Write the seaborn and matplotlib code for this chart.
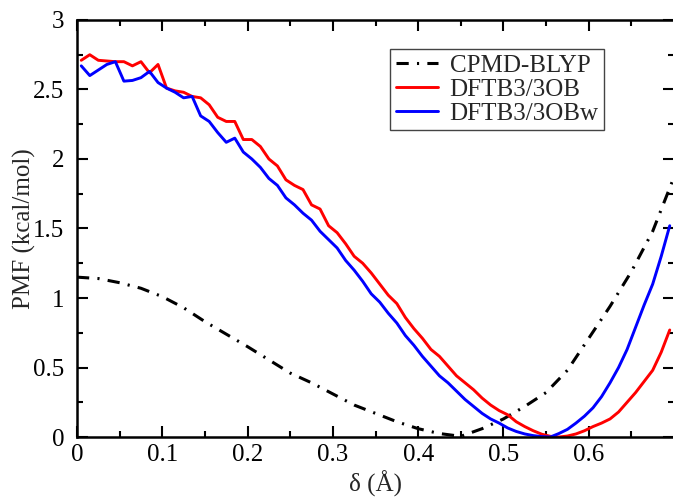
import numpy as np
import pandas as pd
import matplotlib
matplotlib.use("Agg")
import matplotlib.pyplot as plt
import seaborn as sns

# Reaction coordinate grid for the DFTB3 profiles (Å)
delta_dftb = [0.005, 0.015, 0.025, 0.035, 0.045, 0.055, 0.065, 0.075, 0.085, 0.095,
              0.105, 0.115, 0.125, 0.135, 0.145, 0.155, 0.165, 0.175, 0.185, 0.195,
              0.205, 0.215, 0.225, 0.235, 0.245, 0.255, 0.265, 0.275, 0.285, 0.295,
              0.305, 0.315, 0.325, 0.335, 0.345, 0.355, 0.365, 0.375, 0.385, 0.395,
              0.405, 0.415, 0.425, 0.435, 0.445, 0.455, 0.465, 0.475, 0.485, 0.495,
              0.505, 0.515, 0.525, 0.535, 0.545, 0.555, 0.565, 0.575, 0.585, 0.595,
              0.605, 0.615, 0.625, 0.635, 0.645, 0.655, 0.665, 0.675, 0.685, 0.695]

pmf_3ob = [2.71, 2.75, 2.71, 2.705, 2.70, 2.70, 2.67, 2.70, 2.62, 2.68,
           2.51, 2.49, 2.48, 2.45, 2.44, 2.39, 2.30, 2.27, 2.27, 2.14,
           2.14, 2.09, 2.00, 1.95, 1.85, 1.81, 1.78, 1.67, 1.64, 1.52,
           1.47, 1.39, 1.30, 1.25, 1.18, 1.10, 1.02, 0.96, 0.86, 0.78,
           0.71, 0.63, 0.58, 0.51, 0.44, 0.39, 0.34, 0.28, 0.23, 0.19,
           0.16, 0.11, 0.075, 0.045, 0.02, 0.005, 0.0, 0.007, 0.022, 0.045,
           0.075, 0.10, 0.13, 0.18, 0.25, 0.32, 0.40, 0.48, 0.61, 0.77]

pmf_3obw = [2.67, 2.60, 2.64, 2.68, 2.70, 2.56, 2.565, 2.585, 2.63, 2.55,
            2.51, 2.48, 2.44, 2.45, 2.31, 2.27, 2.19, 2.12, 2.15, 2.05,
            2.00, 1.94, 1.86, 1.81, 1.72, 1.67, 1.61, 1.56, 1.48, 1.42,
            1.36, 1.27, 1.20, 1.12, 1.03, 0.97, 0.89, 0.82, 0.73, 0.66,
            0.58, 0.51, 0.44, 0.39, 0.33, 0.27, 0.22, 0.17, 0.13, 0.10,
            0.065, 0.04, 0.022, 0.01, 0.003, 0.0, 0.025, 0.055, 0.10, 0.15,
            0.21, 0.29, 0.39, 0.50, 0.63, 0.79, 0.95, 1.10, 1.30, 1.52]

# CPMD-BLYP reference profile
delta_cpmd = [0.0, 0.025, 0.05, 0.075, 0.1, 0.125, 0.15, 0.175, 0.2, 0.225,
              0.25, 0.275, 0.3, 0.325, 0.35, 0.375, 0.4, 0.425, 0.45, 0.475,
              0.5, 0.525, 0.55, 0.575, 0.6, 0.625, 0.65, 0.675, 0.7]
pmf_cpmd = [1.15, 1.14, 1.11, 1.07, 1.01, 0.93, 0.83, 0.74, 0.65, 0.555,
            0.46, 0.39, 0.31, 0.23, 0.17, 0.11, 0.06, 0.025, 0.005, 0.06,
            0.13, 0.22, 0.32, 0.48, 0.71, 0.94, 1.19, 1.48, 1.87]

sns.set_theme(style="ticks")
plt.rcParams["font.family"] = ["Liberation Serif", "DejaVu Serif"]

FS = 18

fig = plt.figure(figsize=(6.73, 4.97), dpi=100)
ax = fig.add_axes([0.1144, 0.1207, 0.8871, 0.8391])

cpmd = pd.DataFrame({"delta": delta_cpmd, "pmf": pmf_cpmd})
ob = pd.DataFrame({"delta": delta_dftb, "pmf": pmf_3ob})
obw = pd.DataFrame({"delta": delta_dftb, "pmf": pmf_3obw})

sns.lineplot(data=cpmd, x="delta", y="pmf", ax=ax, color="black", lw=2.2,
             label="CPMD-BLYP")
ax.lines[-1].set_dashes((4.0, 2.7, 0.7, 2.7))
sns.lineplot(data=ob, x="delta", y="pmf", ax=ax, color="#ff0000", lw=2.1,
             label="DFTB3/3OB")
sns.lineplot(data=obw, x="delta", y="pmf", ax=ax, color="#0000ff", lw=2.1,
             label="DFTB3/3OBw")

ax.set_xlim(0, 0.7)
ax.set_ylim(0, 3)
ax.set_xticks([0, 0.1, 0.2, 0.3, 0.4, 0.5, 0.6])
ax.set_xticklabels(["0", "0.1", "0.2", "0.3", "0.4", "0.5", "0.6"])
ax.set_xticks(np.arange(0.05, 0.7, 0.1), minor=True)
ax.set_yticks([0, 0.5, 1, 1.5, 2, 2.5, 3])
ax.set_yticklabels(["0", "0.5", "1", "1.5", "2", "2.5", "3"])
ax.set_yticks([0.25, 0.75, 1.25, 1.75, 2.25, 2.75], minor=True)

ax.tick_params(which="both", direction="in", top=True, right=True,
               width=1.5, colors="black", labelsize=FS)
ax.tick_params(which="major", length=8)
ax.tick_params(which="minor", length=4.5)
ax.tick_params(axis="x", pad=5)
ax.tick_params(axis="y", pad=9)
for sp in ax.spines.values():
    sp.set_linewidth(1.8)
    sp.set_color("black")

ax.set_xlabel("δ (Å)", fontsize=FS, labelpad=3)
ax.set_ylabel("PMF (kcal/mol)", fontsize=FS, labelpad=-2)

leg = ax.legend(loc="upper right", bbox_to_anchor=(0.883, 0.930),
                borderaxespad=0, fontsize=FS, frameon=True, fancybox=False,
                framealpha=1, edgecolor="#444444", handlelength=1.7,
                handletextpad=0.45, labelspacing=0.05, borderpad=0.22)
leg.get_frame().set_linewidth(1.0)

fig.savefig("out.png", dpi=100)
